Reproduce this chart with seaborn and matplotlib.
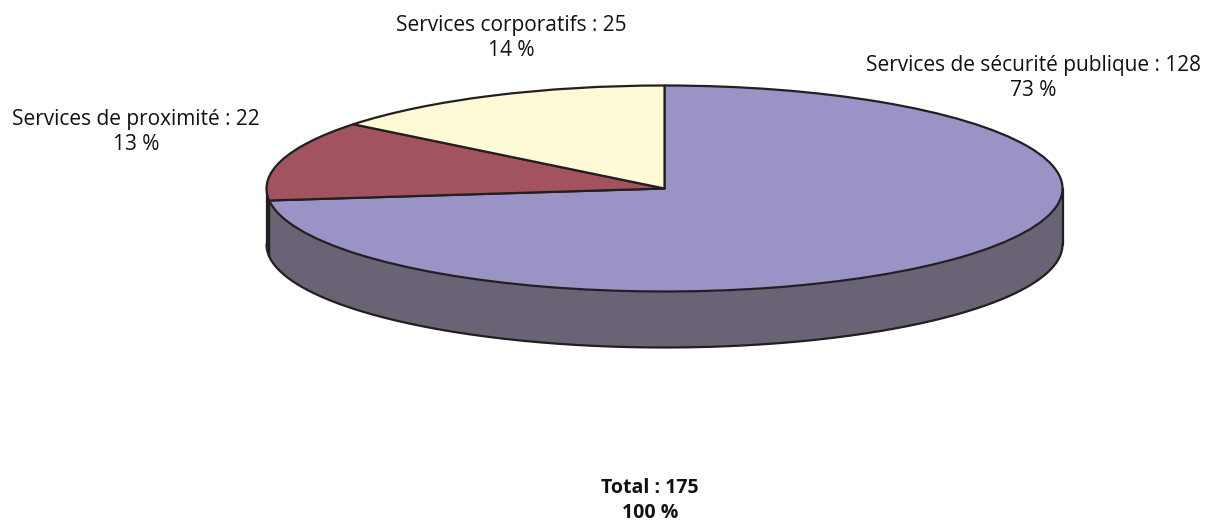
import numpy as np
import matplotlib
matplotlib.use("Agg")
import matplotlib.pyplot as plt
import seaborn as sns

sns.set_style("white")
plt.rcParams['font.family'] = ['Open Sans', 'DejaVu Sans']

# data
services = ["Services de sécurité publique", "Services de proximité", "Services corporatifs"]
effectifs = [128, 22, 25]
pourcents = [73, 13, 14]
total = 175
total_pct = 100

top_colors = ["#9A93C6", "#A3535F", "#FFFAD6"]
side_colors = ["#6A6376", "#6E3A42", "#B5B198"]
EDGE = "#231F20"

# layout (pixels)
W, H = 1207, 523
CX, CY = 664.5, 188.5
RX, RY = 398, 103
DEPTH = 56
label_xy = [(1033, 65), (136, 120), (511, 25)]
LINE = 25
FS = 15

fig = plt.figure(figsize=(W / 100, H / 100), dpi=100)
ax = fig.add_axes([0, 0, 1, 1])

wedges, _ = ax.pie(effectifs, colors=top_colors, startangle=90, counterclock=False,
                   wedgeprops=dict(edgecolor=EDGE, linewidth=1.6, joinstyle='round', zorder=3))

# squash the pie into an ellipse
ax.set_aspect('auto')
ax.set_xlim(-CX / RX, (W - CX) / RX)
ax.set_ylim(-(H - CY) / RY, CY / RY)
ax.axis('off')

d = DEPTH / RY

# visible side of the pie (front half only)
for w, c in zip(wedges, side_colors):
    for k in (-360, 0, 360):
        a0 = max(w.theta1 + k, 180)
        a1 = min(w.theta2 + k, 360)
        if a1 > a0:
            t = np.radians(np.linspace(a0, a1, 200))
            ax.fill_between(np.cos(t), np.sin(t) - d, np.sin(t), color=c, lw=0, zorder=1)
        # slice border on the side
        for a in (w.theta1 + k, w.theta2 + k):
            if 180 < a < 360:
                r = np.radians(a)
                ax.plot([np.cos(r)] * 2, [np.sin(r), np.sin(r) - d], color=EDGE, lw=1.6, zorder=2)

t = np.radians(np.linspace(180, 360, 400))
ax.plot(np.cos(t), np.sin(t) - d, color=EDGE, lw=1.6, zorder=2, solid_capstyle='round')
ax.plot([-1, -1], [0, -d], color=EDGE, lw=1.6, zorder=2)
ax.plot([1, 1], [0, -d], color=EDGE, lw=1.6, zorder=2)

# labels
def put(x, y, s, size=FS, **kw):
    fig.text(x / W, 1 - y / H, s, ha='center', va='center', fontsize=size, color='#111111', **kw)

for (x, y), name, n, p in zip(label_xy, services, effectifs, pourcents):
    put(x, y, f"{name} : {n}")
    put(x, y + LINE, f"{p} %")

put(650, 488, f"Total : {total}", size=14, fontweight='bold')
put(650, 488 + LINE, f"{total_pct} %", size=14, fontweight='bold')

fig.savefig("out.png", dpi=100)
